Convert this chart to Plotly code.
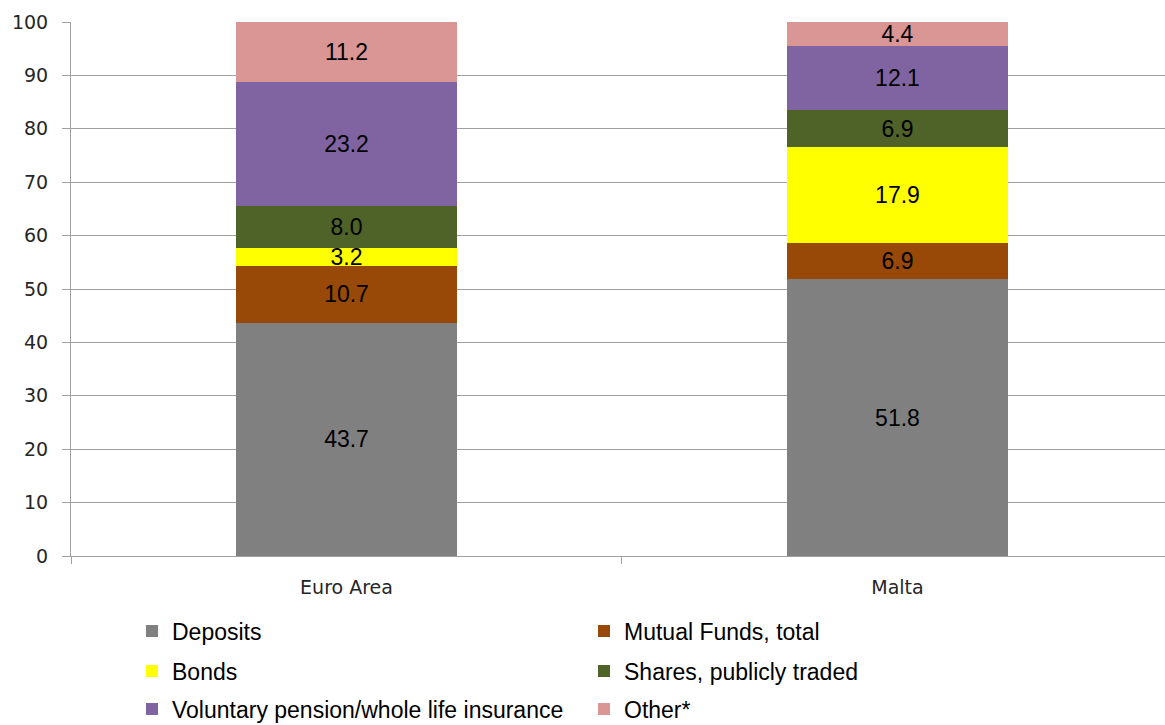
import plotly.graph_objects as go

# Household financial asset composition, % of total
regions = ["Euro Area", "Malta"]
asset_types = [
    "Deposits",
    "Mutual Funds, total",
    "Bonds",
    "Shares, publicly traded",
    "Voluntary pension/whole life insurance",
    "Other*",
]
deposits = [43.7, 51.8]
mutual_funds = [10.7, 6.9]
bonds = [3.2, 17.9]
shares = [8.0, 6.9]
pension_insurance = [23.2, 12.1]
other = [11.2, 4.4]

series = [deposits, mutual_funds, bonds, shares, pension_insurance, other]
colors = ["#808080", "#984807", "#FFFF00", "#4F6228", "#8064A2", "#D99694"]
# each legend row holds two entries
legend_ids = ["legend", "legend", "legend2", "legend2", "legend3", "legend3"]

fig = go.Figure()
for name, vals, col, lg in zip(asset_types, series, colors, legend_ids):
    fig.add_trace(go.Bar(
        x=regions,
        y=vals,
        name=name,
        marker=dict(color=col, line=dict(width=0)),
        width=0.4,
        text=[f"{v:.1f}" for v in vals],
        textposition="inside",
        insidetextanchor="middle",
        textangle=0,
        textfont=dict(family="Liberation Sans, Arial", size=23, color="#000000"),
        legend=lg,
        hoverinfo="skip",
    ))

W, H = 1165, 725
row_y = [631, 671, 709]
legend_common = dict(
    orientation="h",
    xref="container",
    yref="container",
    x=132 / W,
    xanchor="left",
    yanchor="middle",
    entrywidth=407,
    entrywidthmode="pixels",
    font=dict(family="Liberation Sans, Arial", size=23, color="#000000"),
    bgcolor="rgba(0,0,0,0)",
    borderwidth=0,
    traceorder="normal",
)

fig.update_layout(
    width=W,
    height=H,
    margin=dict(l=71, r=0, t=22, b=169),
    paper_bgcolor="white",
    plot_bgcolor="white",
    barmode="stack",
    uniformtext=dict(minsize=23, mode="show"),
    legend=dict(legend_common, y=1 - row_y[0] / H),
    legend2=dict(legend_common, y=1 - row_y[1] / H),
    legend3=dict(legend_common, y=1 - row_y[2] / H),
    xaxis=dict(
        type="category",
        categoryorder="array",
        categoryarray=regions,
        range=[-0.5, 1.4855],
        tickson="boundaries",
        ticks="outside",
        ticklen=7,
        tickcolor="#A0A0A0",
        showline=True,
        linecolor="#A0A0A0",
        linewidth=1,
        showgrid=False,
        zeroline=False,
        ticklabelstandoff=14,
        tickfont=dict(family="DejaVu Sans, Verdana", size=19, color="#262626"),
    ),
    yaxis=dict(
        range=[0, 100],
        dtick=10,
        ticks="outside",
        ticklen=8,
        tickcolor="#A0A0A0",
        showline=True,
        linecolor="#A0A0A0",
        linewidth=1,
        showgrid=True,
        gridcolor="#A0A0A0",
        gridwidth=1,
        zeroline=False,
        ticklabelstandoff=10,
        tickfont=dict(family="DejaVu Sans, Verdana", size=19, color="#262626"),
    ),
)

fig.write_html("out.html")
